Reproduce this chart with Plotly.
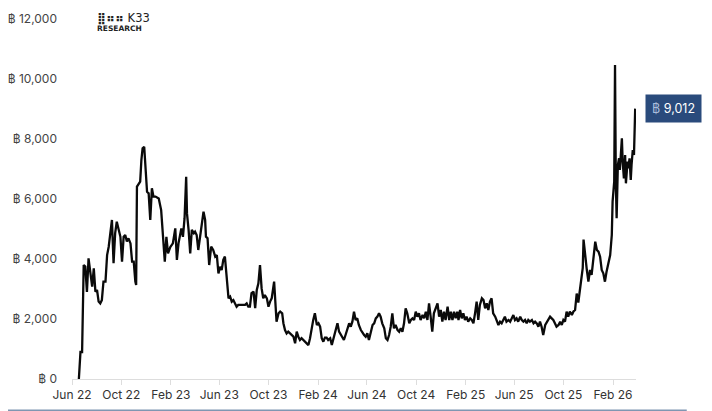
"""BTC holdings chart, K33 Research style."""
import pandas as pd
import plotly.graph_objects as go

START_DATE = "2022-06-01"

# days after START_DATE
day_offset = [
    17, 21, 25, 27, 29, 33, 37, 41, 45, 50, 54, 58, 62, 66, 70, 74, 78, 83, 87, 91,
    95, 99, 103, 107, 111, 116, 120, 124, 128, 132, 136, 140, 145, 149, 153, 157, 159, 161, 165, 169,
    172, 175, 179, 182, 186, 190, 194, 198, 202, 207, 215, 221, 227, 230, 234, 238, 244, 250, 256, 260,
    264, 271, 275, 279, 283, 285, 289, 293, 297, 302, 305, 309, 313, 317, 321, 326, 330, 332, 336, 340,
    345, 350, 355, 359, 363, 367, 371, 375, 379, 383, 388, 392, 396, 400, 404, 408, 412, 421, 429, 433,
    437, 441, 445, 450, 454, 458, 462, 466, 470, 474, 478, 483, 487, 491, 495, 501, 503, 507, 512, 516,
    521, 524, 528, 532, 536, 540, 545, 549, 553, 557, 561, 565, 569, 573, 578, 582, 586, 590, 594, 598,
    602, 607, 611, 615, 619, 623, 627, 631, 635, 640, 644, 648, 652, 658, 662, 666, 670, 674, 678, 683,
    687, 691, 695, 699, 703, 707, 711, 716, 720, 724, 728, 732, 736, 740, 745, 749, 753, 757, 761, 765,
    769, 774, 778, 782, 786, 790, 794, 798, 802, 807, 811, 815, 819, 823, 827, 831, 836, 840, 844, 848,
    852, 856, 860, 864, 869, 873, 877, 881, 885, 889, 893, 897, 902, 906, 910, 914, 918, 922, 926, 931,
    935, 939, 943, 947, 951, 955, 958, 962, 966, 970, 974, 978, 982, 987, 991, 995, 999, 1003, 1007, 1011,
    1016, 1020, 1024, 1028, 1032, 1036, 1040, 1044, 1049, 1053, 1057, 1061, 1065, 1069, 1073, 1077, 1082, 1086, 1090, 1094,
    1098, 1102, 1106, 1111, 1115, 1119, 1123, 1127, 1131, 1135, 1140, 1144, 1148, 1152, 1156, 1160, 1164, 1168, 1173, 1177,
    1181, 1185, 1189, 1193, 1197, 1201, 1206, 1210, 1214, 1218, 1222, 1226, 1230, 1234, 1239, 1243, 1247, 1251, 1255, 1259,
    1263, 1266, 1268, 1272, 1276, 1280, 1284, 1288, 1292, 1297, 1301, 1305, 1309, 1313, 1317, 1321, 1325, 1330, 1334, 1338,
    1340, 1344, 1346, 1348, 1350, 1353, 1356, 1358, 1363, 1365, 1368, 1371, 1373, 1377, 1379, 1382, 1385, 1387, 1390, 1393,
    1396,
]

btc_held = [
    0, 900, 900, 2500, 3800, 3750, 2900, 4020, 3630, 3080, 3690, 2910, 2970, 2580, 2520, 2630, 3245, 3245, 4130, 4410,
    4860, 5300, 3860, 4860, 5245, 4970, 4740, 3910, 4740, 4800, 4580, 4690, 4520, 3910, 3910, 3245, 3130, 6410, 6520, 6580,
    7300, 7690, 7740, 7190, 6240, 6190, 5300, 6360, 6080, 6080, 6020, 5630, 4300, 3910, 4740, 4190, 4410, 4520, 5020, 3970,
    4520, 5020, 4740, 5360, 6740, 5520, 4970, 4190, 4970, 4860, 4910, 4800, 4300, 4690, 5020, 5580, 5300, 4745, 4690, 3800,
    4410, 4300, 4080, 4130, 3520, 3745, 3630, 3970, 4080, 3300, 2690, 2745, 2580, 2630, 2520, 2410, 2470, 2470, 2470, 2520,
    2410, 2410, 2860, 2910, 2360, 2970, 3190, 3800, 3020, 2690, 2800, 2690, 2410, 2580, 2690, 3245, 2745, 1910, 2190, 2245,
    2190, 1860, 1630, 1520, 1580, 1520, 1470, 1410, 1190, 1580, 1410, 1300, 1360, 1300, 1245, 1190, 1130, 1360, 1745, 1970,
    2190, 1800, 1860, 1745, 1360, 1245, 1380, 1380, 1300, 1356, 1134, 1356, 1578, 1856, 1578, 1467, 1411, 1300, 1467, 1689,
    1856, 1745, 1911, 2245, 1967, 2022, 1800, 1633, 1522, 1467, 1411, 1522, 1300, 1578, 1800, 1856, 2022, 2078, 2189, 2078,
    1856, 1689, 1356, 1300, 1467, 1744, 2189, 1689, 1800, 1633, 1578, 1689, 1578, 1856, 2356, 2189, 1856, 1967, 2022, 1967,
    2244, 2078, 2189, 1967, 2133, 2022, 2244, 1967, 2522, 2078, 1578, 2189, 2356, 2522, 2078, 2300, 1911, 2244, 1967, 2411,
    1967, 2244, 1967, 2244, 2022, 2244, 1967, 2300, 2022, 2189, 1967, 2078, 1911, 2022, 1967, 1856, 2189, 2578, 1967, 2467,
    2689, 2633, 2356, 2522, 2300, 2578, 2689, 2189, 2078, 1967, 1800, 1911, 1856, 1967, 2078, 1911, 1967, 1911, 2022, 2133,
    1967, 2022, 1911, 2078, 1967, 1911, 1967, 1856, 1967, 1911, 1967, 1856, 1911, 1856, 1744, 1911, 1744, 1467, 1800, 1911,
    1967, 2078, 2022, 1967, 1856, 1744, 1800, 1911, 1800, 1967, 1911, 2244, 2078, 2244, 2133, 2250, 2300, 2850, 2550, 3050,
    3500, 3700, 4650, 4000, 3650, 3250, 3633, 3467, 4022, 4578, 4300, 4244, 4078, 3633, 3522, 3244, 3578, 3967, 4133, 4800,
    5911, 6578, 10467, 6578, 5356, 7133, 7356, 6967, 8022, 7244, 6689, 7467, 6522, 7244, 7022, 7356, 6633, 7133, 7633, 7467,
    9012,
]

x_range = ["2022-06-01", "2026-03-30"]
y_range = [0, 12000]
y_ticks = [0, 2000, 4000, 6000, 8000, 10000, 12000]
y_ticktext = [f"฿ {v:,}" for v in y_ticks]

FONT = "Inter, Lato, sans-serif"
LABEL_BLUE = "#2a4b7c"

dates = pd.Timestamp(START_DATE) + pd.to_timedelta(day_offset, unit="D")

fig = go.Figure()
fig.add_trace(go.Scatter(
    x=dates,
    y=btc_held,
    mode="lines",
    line=dict(color="#0a0a0a", width=2.3),
    hoverinfo="x+y",
    showlegend=False,
))

# last value badge
fig.add_annotation(
    x=dates[-1], y=btc_held[-1],
    xref="x", yref="y",
    text=f"<span style='color:#a9bddb'>฿</span> {btc_held[-1]:,}",
    showarrow=False,
    xanchor="left", yanchor="middle",
    xshift=10,
    bgcolor=LABEL_BLUE,
    borderpad=6,
    font=dict(family=FONT, size=12.5, color="white"),
)

# logo
fig.add_annotation(
    x=0.041, y=1.003, xref="paper", yref="paper",
    text="<b>⣿⠶⠶</b> K33",
    showarrow=False, xanchor="left", yanchor="middle",
    font=dict(family="DejaVu Sans, sans-serif", size=11.5, color="#222222"),
)
fig.add_annotation(
    x=0.041, y=0.973, xref="paper", yref="paper",
    text="<b>RESEARCH</b>",
    showarrow=False, xanchor="left", yanchor="middle",
    font=dict(family="DejaVu Sans, sans-serif", size=7.5, color="#222222"),
)

# bottom rule
fig.add_shape(
    type="line", xref="paper", yref="paper",
    x0=-0.115, x1=1.09, y0=-0.0875, y1=-0.0875,
    line=dict(color="#7f96b2", width=2),
)

# page body adds an 8px offset, so the figure is 8px smaller
fig.update_layout(
    width=704, height=403,
    margin=dict(l=64, r=76, t=11, b=32),
    paper_bgcolor="white",
    plot_bgcolor="white",
    font=dict(family=FONT, size=12, color="#333333"),
)
fig.update_xaxes(
    type="date",
    range=x_range,
    tick0="2022-06-01",
    dtick="M4",
    tickformat="%b %y",
    automargin=False,
    showgrid=False,
    showline=True,
    linecolor="#dddddd",
    linewidth=1,
    ticks="outside",
    ticklen=5,
    tickcolor="#dddddd",
    tickfont=dict(family=FONT, size=12, color="#333333"),
)
fig.update_yaxes(
    range=y_range,
    tickvals=y_ticks,
    ticktext=y_ticktext,
    automargin=False,
    showgrid=False,
    zeroline=False,
    showline=False,
    ticks="",
    ticklabelstandoff=14,
    tickfont=dict(family=FONT, size=12, color="#444444"),
)

fig.write_html("out.html")
